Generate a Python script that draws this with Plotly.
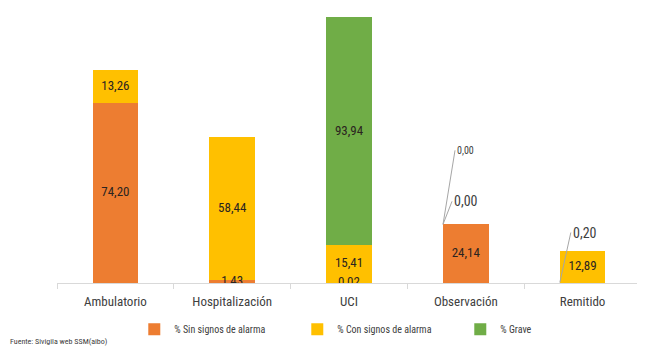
import plotly.graph_objects as go

categories = ["Ambulatorio", "Hospitalización", "UCI", "Observación", "Remitido"]
sin_signos = [74.20, 1.43, 0.02, 24.14, 0.20]
con_signos = [13.26, 58.44, 15.41, 0.00, 12.89]
grave = [0.00, 0.00, 93.94, 0.00, 0.00]

series_names = ["% Sin signos de alarma", "% Con signos de alarma", "% Grave"]
colors = ["#ED7D31", "#FFC000", "#70AD47"]
series = [sin_signos, con_signos, grave]

FONT = "Liberation Sans Narrow, Arial Narrow, Roboto Condensed, Roboto, sans-serif"

def fmt(v):
    return f"{v:.2f}".replace(".", ",")

fig = go.Figure()
for name, vals, col in zip(series_names, series, colors):
    fig.add_trace(go.Bar(x=categories, y=vals, name=name, marker_color=col,
                         marker_line_width=0, width=0.39, hoverinfo="skip"))

# in-bar labels (centered in each segment)
lx, ly, lt = [], [], []
for i, c in enumerate(categories):
    base = 0.0
    for s, vals in enumerate(series):
        v = vals[i]
        if v > 0 and not (c == "Remitido" and s == 0):
            lx.append(c); ly.append(base + v / 2); lt.append(fmt(v))
        base += v
fig.add_trace(go.Scatter(x=lx, y=ly, text=lt, mode="text", showlegend=False,
                         textfont=dict(family=FONT, size=13, color="#2B2420"),
                         hoverinfo="skip"))

# callout annotations
top_obs = sin_signos[3]
fig.add_annotation(x=3 - 0.195, y=top_obs, text=fmt(con_signos[3]), showarrow=True,
                   arrowhead=0, arrowwidth=1, arrowcolor="#A6A6A6", ax=9, ay=-23,
                   xanchor="left", font=dict(family=FONT, size=14, color="#404040"))
fig.add_annotation(x=3 - 0.195, y=top_obs, text=fmt(grave[3]), showarrow=True,
                   arrowhead=0, arrowwidth=1, arrowcolor="#A6A6A6", ax=12, ay=-74,
                   xanchor="left", font=dict(family=FONT, size=10, color="#404040"))
fig.add_annotation(x=4 - 0.195, y=sin_signos[4], text=fmt(sin_signos[4]), showarrow=True,
                   arrowhead=0, arrowwidth=1, arrowcolor="#A6A6A6", ax=11, ay=-50,
                   xanchor="left", font=dict(family=FONT, size=14, color="#404040"))

fig.add_annotation(x=0, y=0, xref="paper", yref="paper", xshift=-49, yshift=-58,
                   text="Fuente: Sivigila web SSM(aibo)", showarrow=False,
                   xanchor="left", yanchor="middle",
                   font=dict(family=FONT, size=8, color="#404040"))

fig.update_layout(
    width=637, height=339,
    margin=dict(l=49, r=4, t=2, b=64),
    barmode="stack",
    plot_bgcolor="white", paper_bgcolor="white",
    font=dict(family=FONT, color="#404040"),
    showlegend=True,
    legend=dict(orientation="h", x=0.551, xanchor="center", y=-0.169, yanchor="middle",
                traceorder="normal",
                font=dict(family=FONT, size=10, color="#404040"),
                entrywidth=118, entrywidthmode="pixels", itemwidth=30),
    xaxis=dict(type="category", range=[-0.5, 4.5], showline=True, linecolor="#D9D9D9",
               linewidth=1, ticks="outside", tickson="boundaries", ticklen=5,
               tickcolor="#D9D9D9", ticklabelstandoff=6,
               tickfont=dict(family=FONT, size=13, color="#404040"),
               showgrid=False, zeroline=False),
    yaxis=dict(range=[0, 112.3], visible=False, showgrid=False, zeroline=False),
)

fig.write_html("out.html")
